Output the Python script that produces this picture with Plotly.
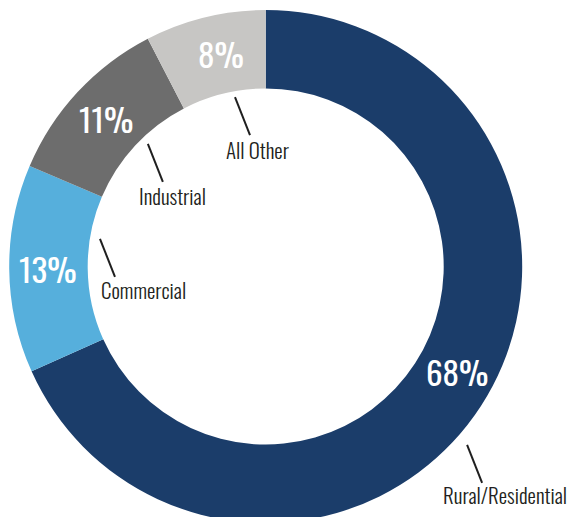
import math
import plotly.graph_objects as go

# ---- data ----
labels = ["Rural/Residential", "Commercial", "Industrial", "All Other"]
values = [68.3, 13.1, 11.0, 7.6]
pct_text = ["68%", "13%", "11%", "8%"]
colors = ["#1b3d6a", "#56afdc", "#6d6d6d", "#c7c6c4"]

# ---- label styling (placement relative to each slice) ----
pct_angle_shift = [-4.1, 0.0, 0.0, 1.8]           # degrees from slice middle
pct_radius_frac = 0.85                            # fraction of outer radius
label_angle_shift = [8.6, 10.0, 3.3, 3.4]         # degrees past slice middle
label_radius_frac = [1.049, 0.655, 0.663, 0.671]  # fraction of outer radius
label_dx = [38, 43.5, 25, 23]                     # text centre offset from line start (px)
label_dy = [52, 53, 53.5, 54.5]
line_vec = (15, 38)

W, H = 570, 534
cx, cy, R = 265.7, 266.5, 256.5
hole = 0.694
FONT = "Oswald, Roboto Condensed, sans-serif"

dom_x = [(cx - R) / W, (cx + R) / W]
dom_y = [1 - (cy + R) / H, 1 - (cy - R) / H]

fig = go.Figure(go.Pie(
    labels=labels,
    values=values,
    textinfo="none",
    marker=dict(colors=colors, line=dict(width=0)),
    hole=hole,
    sort=False,
    direction="clockwise",
    rotation=0,
    hoverinfo="label+percent",
    domain=dict(x=dom_x, y=dom_y),
    showlegend=False,
))

def px2paper(px, py):
    return px / W, 1 - py / H

total = sum(values)
cum = 0.0
shapes, annotations = [], []
for i, v in enumerate(values):
    mid = (cum + v / 2) / total * 360.0
    cum += v
    # percentage inside the ring
    pa = math.radians(mid + pct_angle_shift[i])
    pr = R * pct_radius_frac
    px, py = px2paper(cx + pr * math.sin(pa), cy - pr * math.cos(pa))
    annotations.append(dict(text=pct_text[i], x=px, y=py, xref="paper", yref="paper",
                            xanchor="center", yanchor="middle", showarrow=False,
                            font=dict(family=FONT, size=33, color="white")))
    # category label with leader line
    ang = math.radians(mid + label_angle_shift[i])
    r = R * label_radius_frac[i]
    sx = cx + r * math.sin(ang)
    sy = cy - r * math.cos(ang)
    ex, ey = sx + line_vec[0], sy + line_vec[1]
    x0, y0 = px2paper(sx, sy)
    x1, y1 = px2paper(ex, ey)
    shapes.append(dict(type="line", xref="paper", yref="paper",
                       x0=x0, y0=y0, x1=x1, y1=y1,
                       line=dict(color="#1f1f1f", width=2)))
    tx, ty = px2paper(sx + label_dx[i], sy + label_dy[i] - 2)
    annotations.append(dict(text=labels[i], x=tx, y=ty, xref="paper", yref="paper",
                            xanchor="center", yanchor="middle", showarrow=False,
                            font=dict(family=FONT, size=21, color="#231f20", weight=300)))

fig.update_layout(
    width=W, height=H,
    margin=dict(l=0, r=0, t=0, b=0),
    paper_bgcolor="white",
    plot_bgcolor="white",
    shapes=shapes,
    annotations=annotations,
)

fig.write_html("out.html",
               config={"displayModeBar": False},
               post_script="document.body.style.margin='0';document.body.style.overflow='hidden';")
